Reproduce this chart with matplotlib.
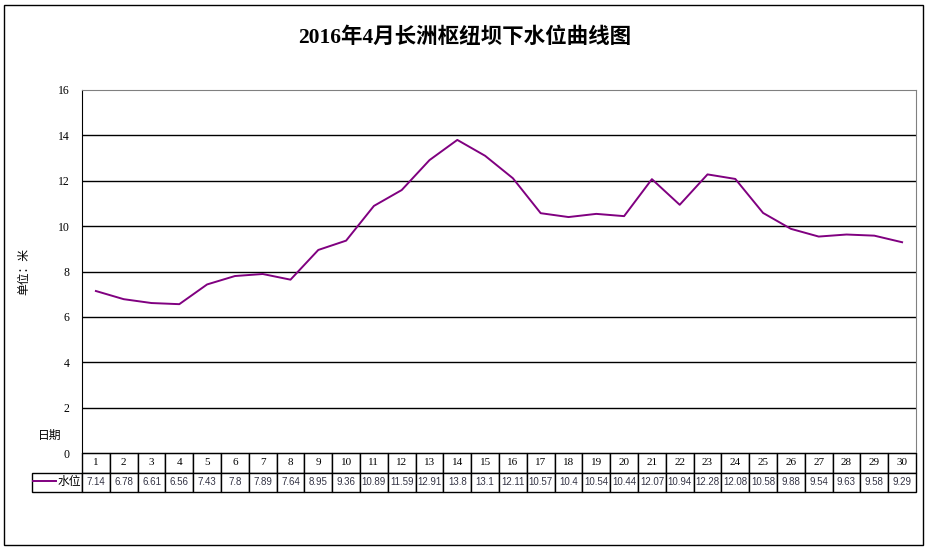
import matplotlib
matplotlib.use("Agg")
import matplotlib.pyplot as plt
from matplotlib.patches import Rectangle

plt.rcParams['font.family'] = ['Liberation Serif', 'Noto Sans CJK SC']

days = list(range(1, 31))
water_level = [7.14, 6.78, 6.61, 6.56, 7.43, 7.8, 7.89, 7.64, 8.95, 9.36,
               10.89, 11.59, 12.91, 13.8, 13.1, 12.11, 10.57, 10.4, 10.54, 10.44,
               12.07, 10.94, 12.28, 12.08, 10.58, 9.88, 9.54, 9.63, 9.58, 9.29]
yticks = [0, 2, 4, 6, 8, 10, 12, 14, 16]
title = "2016年4月长洲枢纽坝下水位曲线图"
series_name = "水位"

W, H = 930, 550
fig = plt.figure(figsize=(W / 100, H / 100), dpi=100)

# plot area in pixels: x 82..916, y 90..453
ax = fig.add_axes([82 / W, (H - 453) / H, 834 / W, 363 / H])
line, = ax.plot(days, water_level, color='#800080', lw=1.4, label=series_name)
ax.set_xlim(0.5, 30.5)
ax.set_ylim(0, 16)
ax.set_yticks(yticks)
ax.set_xticks([])
for y in yticks[1:-1]:
    ax.axhline(y, color='black', lw=1, zorder=0)
ax.tick_params(axis='y', length=0, pad=9, labelsize=8.5)
ax.spines['top'].set_color('#808080')
ax.spines['right'].set_color('#808080')
ax.spines['left'].set_color('black')
ax.spines['bottom'].set_color('black')

ax.set_ylabel("单位：米", fontsize=8.5)
ax.yaxis.set_label_coords(-0.062, 0.5)
fig.text(50 / W, (H - 436) / H, "日期", fontsize=8.5, ha='center', va='center')

fig.text(465 / W, (H - 38) / H, title, fontsize=15.5, fontweight='bold',
         ha='center', va='center')

# data table below the axis; first column holds the legend key
cell_text = [[''] + [str(v) for v in water_level]]
col_labels = [''] + [str(d) for d in days]
key_w = 50 / 834
tbl = ax.table(cellText=cell_text, colLabels=col_labels,
               colWidths=[key_w] + [1 / 30] * 30, cellLoc='center',
               bbox=[-key_w, -39 / 363, 1 + key_w, 39 / 363])
tbl.auto_set_font_size(False)
for (r, c), cell in tbl.get_celld().items():
    cell.set_edgecolor('black')
    cell.set_linewidth(1)
    cell.PAD = 0.02
    if r == 0:
        if c == 0:
            cell.visible_edges = ''
        cell.get_text().set_fontsize(8)
        cell.get_text().set_family(['Liberation Serif'])
    else:
        cell.get_text().set_fontsize(7)
        cell.get_text().set_family(['Liberation Sans'])
        cell.get_text().set_color('#333344')

fig.legend(handles=[line], loc='center',
           bbox_to_anchor=(57 / W, (H - 482) / H),
           frameon=False, fontsize=8.5, handlelength=2.0, handletextpad=0.1,
           borderpad=0, borderaxespad=0)

fig.patches.append(Rectangle((4 / W, 5 / H), 919 / W, 540 / H,
                             transform=fig.transFigure, fill=False,
                             edgecolor='black', lw=1))

fig.savefig("out.png", dpi=100)
